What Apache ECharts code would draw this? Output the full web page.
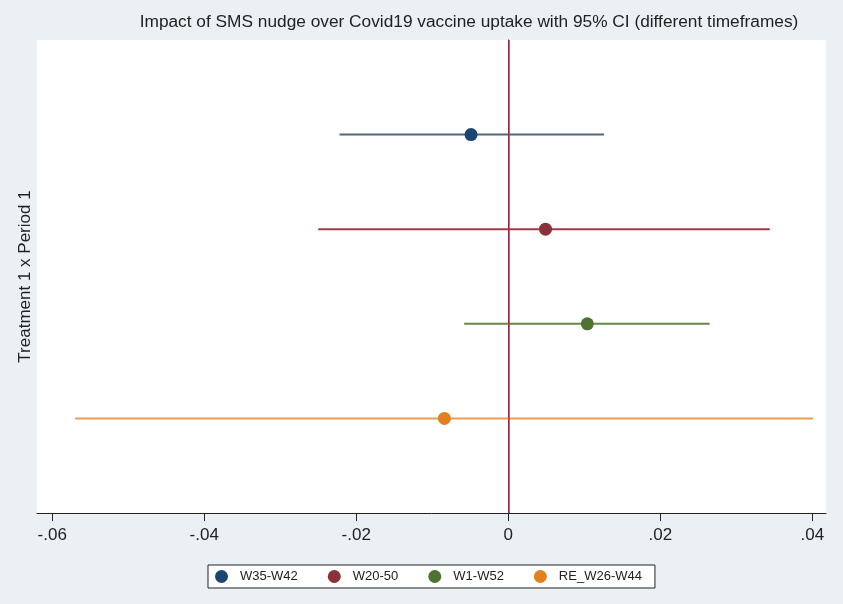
<!DOCTYPE html>
<html><head><meta charset="utf-8">
<script src="https://cdn.jsdelivr.net/npm/echarts@6/dist/echarts.min.js"></script>
<style>html,body{margin:0;padding:0;background:#eaf0f3;}#c{width:843px;height:604px;}</style>
</head><body><div id="c"></div>
<script>
const groups = ['W35-W42', 'W20-50', 'W1-W52', 'RE_W26-W44'];
const estimates = [-0.0049, 0.0049, 0.0104, -0.0084];
const lower = [-0.0222, -0.0250, -0.0058, -0.0570];
const upper = [0.0126, 0.0344, 0.0265, 0.0401];
const rows = [4, 3, 2, 1];
const xTicks = [-0.06, -0.04, -0.02, 0, 0.02, 0.04];
const colors = ['#1c4672', '#8b3138', '#4f7230', '#e2801f'];
const lineColors = ['#4f6788', '#a8354a', '#658843', '#eb9c4c'];

function fmt(v) {
  if (Math.abs(v) < 1e-9) return '0';
  const s = Math.abs(v).toFixed(2).replace(/^0/, '');
  return (v < 0 ? '-' : '') + s;
}

const series = [];
groups.forEach((g, i) => {
  series.push({
    name: g + ' CI', type: 'line', silent: true, showSymbol: false,
    data: [[lower[i], rows[i]], [upper[i], rows[i]]],
    lineStyle: { color: lineColors[i], width: 2 }, z: 2
  });
});
groups.forEach((g, i) => {
  series.push({
    name: g, type: 'scatter', symbol: 'circle', symbolSize: 13,
    data: [[estimates[i], rows[i]]],
    itemStyle: { color: colors[i], opacity: 1 }, z: 4
  });
});
series[0].markLine = {
  silent: true, symbol: 'none', label: { show: false },
  lineStyle: { color: '#c2283f', width: 1.5, type: 'solid' },
  data: [{ xAxis: 0 }]
};

const chart = echarts.init(document.getElementById('c'));
chart.setOption({
  backgroundColor: '#eaf0f3',
  animation: false,
  textStyle: { fontFamily: 'Liberation Sans, Arial, sans-serif' },
  title: {
    text: 'Impact of SMS nudge over Covid19 vaccine uptake with 95% CI (different timeframes)',
    left: 464, top: 9, textAlign: 'center',
    textStyle: { fontSize: 17.3, fontWeight: 'normal', color: '#222' }
  },
  legend: {
    data: groups, left: 208, top: 565,
    icon: 'circle', itemWidth: 13, itemHeight: 13, itemGap: 30,
    padding: [5, 13, 5, 7],
    backgroundColor: '#fff', borderColor: '#222', borderWidth: 1, borderRadius: 0,
    textStyle: { fontSize: 13, color: '#222', padding: [0, 0, 0, 7] }
  },
  grid: { left: 37, right: 17, top: 40, bottom: 91, show: true, backgroundColor: '#fff', borderWidth: 0 },
  xAxis: {
    type: 'value', min: -0.062, max: 0.0418,
    axisLine: { show: true, lineStyle: { color: '#222', width: 1 } },
    axisTick: { show: true, customValues: xTicks, length: 8, lineStyle: { color: '#222' } },
    axisLabel: { customValues: xTicks, formatter: fmt, fontSize: 17, color: '#222', margin: 14 },
    splitLine: { show: false }
  },
  yAxis: {
    type: 'value', min: 0, max: 5,
    name: 'Treatment 1 x Period 1', nameLocation: 'middle', nameGap: 3,
    nameTextStyle: { fontSize: 17, color: '#222' },
    axisLine: { show: true, lineStyle: { color: '#222', width: 1 } },
    axisTick: { show: false }, axisLabel: { show: false }, splitLine: { show: false }
  },
  series: series
});
</script></body></html>
